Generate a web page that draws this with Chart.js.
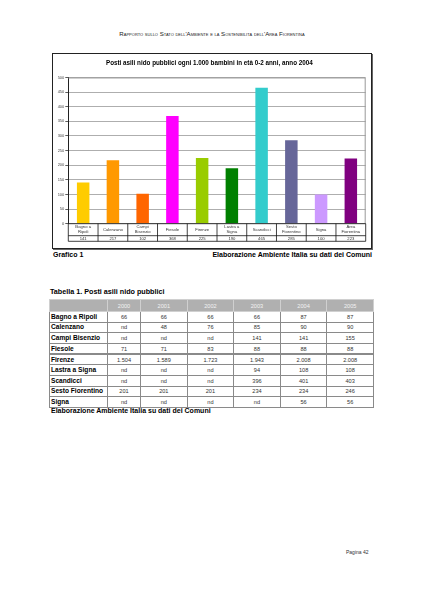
<!DOCTYPE html>
<html>
<head>
<meta charset="utf-8">
<script src="https://cdn.jsdelivr.net/npm/chart.js@4/dist/chart.umd.min.js"></script>
<style>
  body { margin: 0; width: 424px; height: 599px; background: #fff; position: relative; overflow: hidden;
         font-family: 'Liberation Sans', Arial, sans-serif; color: #000; }
  .abs { position: absolute; white-space: nowrap; }
  #header { left: 0; width: 424px; top: 30px; text-align: center; font-size: 6.1px; font-variant: small-caps; color: #222; }
  #box { left: 52px; top: 53px; width: 320px; height: 196px; border: 1.3px solid #222; box-sizing: border-box; box-shadow: 1px 1px 0 #666; }
  #wrap { left: 53px; top: 54px; width: 317px; height: 193px; }
  .cap { font-weight: bold; font-size: 7px; }
  #grafico { left: 53px; top: 251px; }
  #fonte1 { right: 52px; top: 251px; }
  #tabtitle { left: 50px; top: 287px; font-size: 7.2px; }
  #fonte2 { left: 51px; top: 407px; }
  #pagina { left: 346px; top: 549px; font-size: 5px; color: #333; }
  table { position: absolute; left: 49px; top: 299px; border-collapse: collapse; table-layout: fixed; width: 324px; }
  td, th { border: 1px solid #8a8a8a; padding: 0; line-height: 8px; overflow: hidden; }
  tr { height: 10.67px; }
  tr.head { height: 12px; }
  th { background: #b0b0b0; color: #f2f2f2; font-weight: normal; font-size: 5.6px; border-color: #d0d0d0; }
  td { text-align: center; font-size: 5.6px; color: #333; }
  td.name { text-align: left; font-weight: bold; font-size: 6.6px; color: #000; padding-left: 1px; }
  tr.sep td { border-top: 2px double #8a8a8a; }
</style>
</head>
<body>
<div id="header" class="abs">Rapporto sullo Stato dell'Ambiente e la Sostenibilità dell'Area Fiorentina</div>
<div id="box" class="abs"></div>
<div id="wrap" class="abs"><canvas id="grafico1"></canvas></div>
<div id="grafico" class="abs cap">Grafico 1</div>
<div id="fonte1" class="abs cap">Elaborazione Ambiente Italia su dati dei Comuni</div>
<div id="tabtitle" class="abs cap">Tabella 1. Posti asili nido pubblici</div>
<table id="tab1"></table>
<div id="fonte2" class="abs cap">Elaborazione Ambiente Italia su dati dei Comuni</div>
<div id="pagina" class="abs">Pagina 42</div>

<script>
// chart data (2004, posti ogni 1.000 bambini 0-2 anni)
const categorie = [['Bagno a','Ripoli'],['Calenzano'],['Campi','Bisenzio'],['Fiesole'],['Firenze'],['Lastra a','Signa'],['Scandicci'],['Sesto','Fiorentino'],['Signa'],['Area','Fiorentina']];
const valori = [141, 217, 102, 368, 225, 190, 465, 285, 100, 223];
const colori = ['#FFCC00','#FF9900','#FF6600','#FF00FF','#99CC00','#008000','#33CCCC','#666699','#CC99FF','#800080'];

// table data
const anni = ['2000','2001','2002','2003','2004','2005'];
const comuni = ['Bagno a Ripoli','Calenzano','Campi Bisenzio','Fiesole','Firenze','Lastra a Signa','Scandicci','Sesto Fiorentino','Signa'];
const posti = [
  ['66','66','66','66','87','87'],
  ['nd','48','76','85','90','90'],
  ['nd','nd','nd','141','141','155'],
  ['71','71','83','88','88','88'],
  ['1.504','1.589','1.723','1.943','2.008','2.008'],
  ['nd','nd','nd','94','108','108'],
  ['nd','nd','nd','396','401','403'],
  ['201','201','201','234','234','246'],
  ['nd','nd','nd','nd','56','56']
];

// build table
var html = '<colgroup><col style="width:58px"><col style="width:33px">';
for (var i = 1; i < anni.length; i++) html += '<col style="width:46.6px">';
html += '</colgroup><tr class="head"><th></th>';
anni.forEach(function(a){ html += '<th>' + a + '</th>'; });
html += '</tr>';
comuni.forEach(function(c, r){
  html += '<tr' + (c == 'Firenze' ? ' class="sep"' : '') + '><td class="name">' + c + '</td>';
  posti[r].forEach(function(v){ html += '<td>' + v + '</td>'; });
  html += '</tr>';
});
document.getElementById('tab1').innerHTML = html;

const FONT = "'Liberation Sans', Arial, sans-serif";

// data table under the bars + gray frame of the plot area
const tabellaDati = {
  id: 'tabellaDati',
  beforeDatasetsDraw(chart) {
    const a = chart.chartArea, ctx = chart.ctx;
    ctx.save();
    ctx.strokeStyle = '#999';
    ctx.lineWidth = 1;
    ctx.beginPath();
    ctx.moveTo(a.left, a.top + 0.5); ctx.lineTo(a.right - 0.5, a.top + 0.5); ctx.lineTo(a.right - 0.5, a.bottom);
    ctx.stroke();
    ctx.restore();
  },
  afterDraw(chart) {
    const a = chart.chartArea, ctx = chart.ctx, x = chart.scales.x;
    const w = (a.right - a.left) / categorie.length;
    const r1 = a.bottom + 12, r2 = a.bottom + 17.6;
    ctx.save();
    ctx.strokeStyle = '#111';
    ctx.lineWidth = 0.8;
    ctx.beginPath();
    ctx.moveTo(a.left, a.bottom); ctx.lineTo(a.right, a.bottom);
    ctx.moveTo(a.left, r1); ctx.lineTo(a.right, r1);
    ctx.moveTo(a.left, r2); ctx.lineTo(a.right, r2);
    for (var i = 0; i <= categorie.length; i++) {
      var px = i < categorie.length ? x.getPixelForValue(i) - w / 2 : a.right;
      ctx.moveTo(px, a.bottom); ctx.lineTo(px, r2);
    }
    ctx.stroke();
    ctx.fillStyle = '#333';
    ctx.font = '4.2px ' + FONT;
    ctx.textAlign = 'center';
    ctx.textBaseline = 'middle';
    categorie.forEach(function(lab, i) {
      var cx = x.getPixelForValue(i);
      var mid = (a.bottom + r1) / 2;
      if (lab.length == 1) ctx.fillText(lab[0], cx, mid);
      else { ctx.fillText(lab[0], cx, mid - 2.5); ctx.fillText(lab[1], cx, mid + 2.5); }
      ctx.fillText(String(valori[i]), cx, (r1 + r2) / 2 + 0.3);
    });
    ctx.restore();
  }
};

new Chart(document.getElementById('grafico1'), {
  type: 'bar',
  data: {
    labels: categorie,
    datasets: [{
      data: valori,
      backgroundColor: colori,
      borderWidth: 0,
      barPercentage: 0.42,
      categoryPercentage: 1
    }]
  },
  options: {
    responsive: true,
    maintainAspectRatio: false,
    animation: false,
    layout: { padding: { left: 0, right: 4.3, top: 0, bottom: 5.7 } },
    plugins: {
      legend: { display: false },
      tooltip: { enabled: false },
      title: {
        display: true,
        text: 'Posti asili nido pubblici ogni 1.000 bambini in età 0-2 anni, anno 2004',
        font: { family: FONT, size: 6.3, weight: 'bold' },
        color: '#000',
        padding: { top: 5.5, bottom: 10.4 }
      }
    },
    scales: {
      x: {
        ticks: { display: false },
        grid: { display: false },
        border: { display: false },
        afterFit: function(s) { s.height = 17.6; }
      },
      y: {
        min: 0, max: 500,
        ticks: { stepSize: 50, color: '#444', font: { family: FONT, size: 4 }, padding: 1 },
        grid: { color: '#999', lineWidth: 0.8, tickLength: 3, tickColor: '#333' },
        border: { color: '#222', width: 1 },
        afterFit: function(s) { s.width = 15.3; }
      }
    }
  },
  plugins: [tabellaDati]
});
</script>
</body>
</html>
